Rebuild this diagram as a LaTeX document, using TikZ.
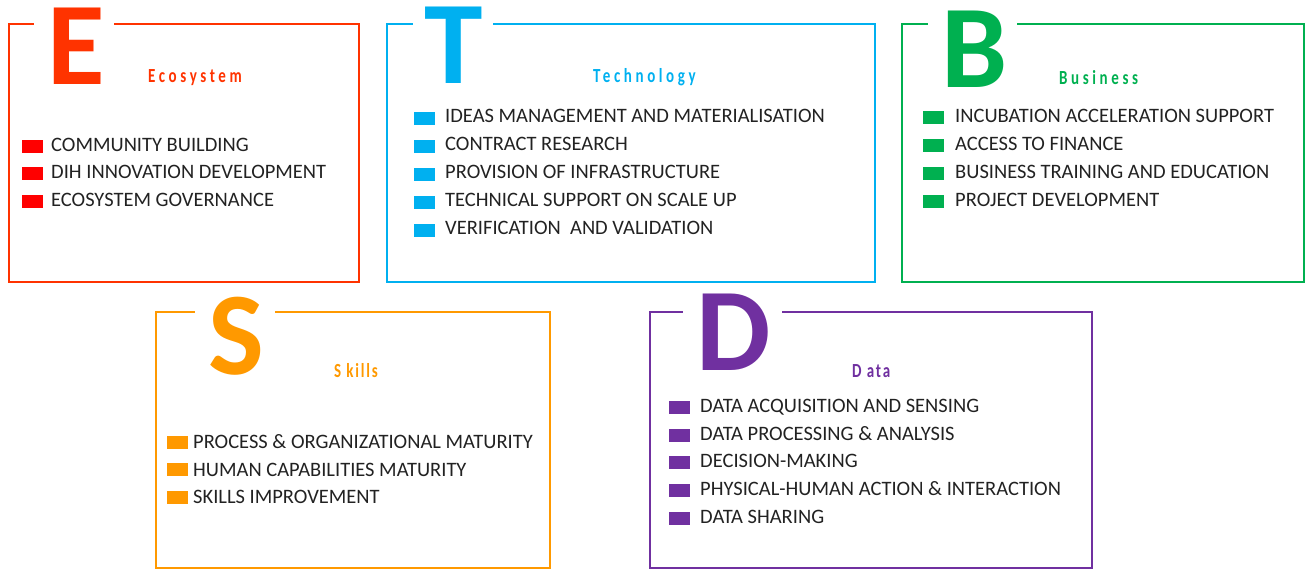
\documentclass[tikz,border=0pt]{standalone}
\usepackage{fontspec}
\setmainfont{Carlito}
\newfontfamily\headfont[FakeStretch=0.75,LetterSpace=18]{Carlito Bold}
\newfontfamily\headfontb[FakeStretch=0.75,LetterSpace=9]{Carlito Bold}
\definecolor{cE}{HTML}{FF3300}
\definecolor{cEsq}{HTML}{FF0000}
\definecolor{cT}{HTML}{00B0F0}
\definecolor{cB}{HTML}{00B050}
\definecolor{cS}{HTML}{FF9900}
\definecolor{cD}{HTML}{7030A0}
\definecolor{txt}{HTML}{222222}
\tikzset{
  itemtext/.style={anchor=base west,inner sep=0pt,text=txt,font=\fontsize{20.5}{24}\selectfont},
  sq/.style={fill=#1,minimum width=21pt,minimum height=13pt,inner sep=0pt},
  frame/.style={draw=#1,line width=2.5pt},
  bigletter/.style={anchor=base,inner sep=0pt,text height=76pt,text depth=0pt,text=#1,font=\fontsize{118}{120}\selectfont\bfseries},
  heading/.style={anchor=base west,inner sep=0pt,text=#1,font=\fontsize{20}{22}\selectfont\headfont},
  headingb/.style={anchor=base west,inner sep=0pt,text=#1,font=\fontsize{20}{22}\selectfont\headfontb},
}
\begin{document}
\begin{tikzpicture}[x=1pt,y=-1pt]
\useasboundingbox (0,0) rectangle (1305,569);
% frames
\draw[frame=cE] (114,24) -- (359,24) -- (359,282) -- (9,282) -- (9,24) -- (34,24);
\draw[frame=cT] (493,24) -- (875,24) -- (875,282) -- (387,282) -- (387,24) -- (413,24);
\draw[frame=cB] (1017,24) -- (1304,24) -- (1304,282) -- (902,282) -- (902,24) -- (928,24);
\draw[frame=cS] (275,312) -- (550,312) -- (550,568) -- (156,568) -- (156,312) -- (195,312);
\draw[frame=cD] (782,312) -- (1092,312) -- (1092,568) -- (650,568) -- (650,312) -- (683,312);
% big letters
\node[bigletter=cE] (Eletter) at (76.5,85) {E};
\node[bigletter=cT] (Tletter) at (453.5,84) {T};
\node[bigletter=cB] (Bletter) at (975,88) {B};
\node[bigletter=cS] (Sletter) at (236.5,374) {S};
\node[bigletter=cD] (Dletter) at (734,370) {D};
% headings
\node[heading=cE] (Ehead) at (148,83) {Ecosystem};
\node[heading=cT] (Thead) at (593,83) {Technology};
\node[heading=cB] (Bhead) at (1059,85) {Business};
\node[headingb=cS] (Shead) at (334,377) {S kills};
\node[headingb=cD] (Dhead) at (852,377) {D ata};
% items
\foreach \y/\t [count=\i] in {151.5/COMMUNITY BUILDING,179/DIH INNOVATION DEVELOPMENT,206.5/ECOSYSTEM GOVERNANCE}{
  \node[sq=cEsq] (Esq\i) at ({32.5},{\y-5}) {};
  \node[itemtext] (Eitem\i) at (51,\y) {\t};
}
\foreach \y/\t [count=\i] in {123/IDEAS MANAGEMENT AND MATERIALISATION,151/CONTRACT RESEARCH,179/PROVISION OF INFRASTRUCTURE,207/TECHNICAL SUPPORT ON SCALE UP,235/VERIFICATION\ \ AND VALIDATION}{
  \node[sq=cT] (Tsq\i) at ({424},{\y-4.5}) {};
  \node[itemtext] (Titem\i) at (445,\y) {\t};
}
\foreach \y/\t [count=\i] in {123/INCUBATION ACCELERATION SUPPORT,151/ACCESS TO FINANCE,179/BUSINESS TRAINING AND EDUCATION,207/PROJECT DEVELOPMENT}{
  \node[sq=cB] (Bsq\i) at ({933},{\y-5}) {};
  \node[itemtext] (Bitem\i) at (955,\y) {\t};
}
\foreach \y/\t [count=\i] in {448.5/PROCESS \& ORGANIZATIONAL MATURITY,476/HUMAN CAPABILITIES MATURITY,503.5/SKILLS IMPROVEMENT}{
  \node[sq=cS] (Ssq\i) at ({177.5},{\y-6.5}) {};
  \node[itemtext] (Sitem\i) at (193,\y) {\t};
}
\foreach \y/\t [count=\i] in {412/DATA ACQUISITION AND SENSING,440/DATA PROCESSING \& ANALYSIS,467.5/DECISION-MAKING,495/PHYSICAL-HUMAN ACTION \& INTERACTION,523/DATA SHARING}{
  \node[sq=cD] (Dsq\i) at ({679.5},{\y-5}) {};
  \node[itemtext] (Ditem\i) at (700,\y) {\t};
}
\end{tikzpicture}
\end{document}
